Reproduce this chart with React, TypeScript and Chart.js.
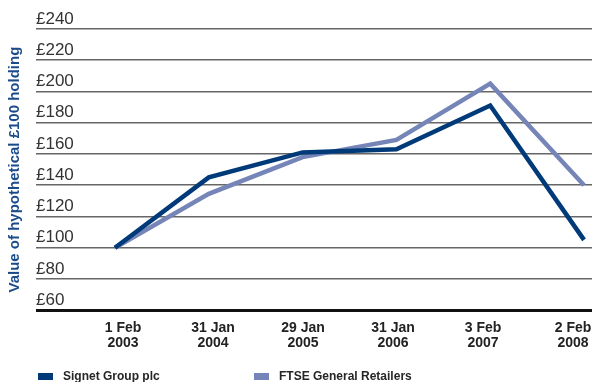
import React, { useEffect, useRef } from "react";
import { Chart, registerables } from "chart.js";

Chart.register(...registerables);

const categories: string[][] = [
  ["1 Feb", "2003"],
  ["31 Jan", "2004"],
  ["29 Jan", "2005"],
  ["31 Jan", "2006"],
  ["3 Feb", "2007"],
  ["2 Feb", "2008"],
];
const signetValues = [100, 145, 161, 163, 191, 105];
const ftseValues = [100, 134.5, 158, 169, 205, 140];
const yTicks = [60, 80, 100, 120, 140, 160, 180, 200, 220, 240];
const seriesNames = ["Signet Group plc", "FTSE General Retailers"];
const seriesColors = ["#003a78", "#7585b8"];
const yTitle = "Value of hypothetical £100 holding";

const legendPlugin = {
  id: "customLegend",
  afterDraw(chart: any) {
    const ctx = chart.ctx;
    const xs = [38, 254];
    const y = 376.5;
    ctx.save();
    chart.data.datasets.forEach((ds: any, i: number) => {
      const x = xs[i];
      ctx.fillStyle = ds.borderColor;
      ctx.fillRect(x, y - 3.5, 15, 7);
      ctx.fillStyle = "#262626";
      ctx.font = "bold 12px 'Liberation Sans', Arial, sans-serif";
      ctx.textBaseline = "middle";
      ctx.textAlign = "left";
      ctx.fillText(ds.label, x + 25, y);
    });
    ctx.restore();
  },
};

export default function App() {
  const ref = useRef<HTMLCanvasElement>(null);
  useEffect(() => {
    if (!ref.current) return;
    const chart = new Chart(ref.current, {
      type: "line",
      data: {
        datasets: [
          {
            label: seriesNames[0],
            data: signetValues.map((v, i) => ({ x: i, y: v })),
            borderColor: seriesColors[0],
            backgroundColor: seriesColors[0],
            borderWidth: 4.5,
            pointRadius: 0,
            tension: 0,
            borderJoinStyle: "miter",
            xAxisID: "x",
          },
          {
            label: seriesNames[1],
            data: ftseValues.map((v, i) => ({ x: i, y: v })),
            borderColor: seriesColors[1],
            backgroundColor: seriesColors[1],
            borderWidth: 4.5,
            pointRadius: 0,
            tension: 0,
            borderJoinStyle: "miter",
            xAxisID: "x",
          },
        ],
      },
      options: {
        responsive: false,
        animation: false,
        devicePixelRatio: 1,
        layout: { autoPadding: false, padding: { top: 29, left: 0, right: 0, bottom: 21 } },
        plugins: {
          legend: { display: false },
          tooltip: { enabled: false },
        },
        scales: {
          x: {
            type: "linear",
            display: false,
            min: -0.842,
            max: 5.085,
          },
          x2: {
            type: "linear",
            position: "bottom",
            min: -0.9667,
            max: 5.211,
            grid: { display: false, drawTicks: false },
            border: { display: false },
            afterBuildTicks: (scale: any) => {
              scale.ticks = categories.map((_, i) => ({ value: i }));
            },
            afterFit: (scale: any) => {
              scale.paddingLeft = 0;
              scale.paddingRight = 0;
            },
            ticks: {
              autoSkip: false,
              maxRotation: 0,
              padding: 10,
              color: "#222",
              font: { family: "'Liberation Sans', Arial, sans-serif", size: 14, weight: "bold", lineHeight: 1.1 },
              callback: (v: any) => categories[Math.round(Number(v))] || "",
            },
          },
          y: {
            type: "linear",
            min: 60,
            max: 240,
            afterBuildTicks: (scale: any) => {
              scale.ticks = yTicks.map((v) => ({ value: v }));
            },
            border: { display: false },
            grid: {
              drawTicks: false,
              color: (c: any) => (c.tick && c.tick.value === 60 ? "#111" : "#666"),
              lineWidth: (c: any) => (c.tick && c.tick.value === 60 ? 3 : 1.5),
            },
            ticks: {
              mirror: true,
              padding: 0,
              labelOffset: -10,
              color: "#333",
              font: { family: "'Liberation Sans', Arial, sans-serif", size: 17 },
              callback: (v: any) => "£" + v,
            },
            title: {
              display: true,
              text: yTitle,
              color: "#1c4b8c",
              font: { family: "'Liberation Sans', Arial, sans-serif", size: 15, weight: "bold", lineHeight: 1.2 },
              padding: { top: 6, bottom: 12 },
            },
          },
        },
      },
      plugins: [legendPlugin],
    } as any);
    return () => chart.destroy();
  }, []);
  return (
    <div style={{ position: "fixed", left: 0, top: 0, width: 592, height: 382, background: "#fff" }}>
      <canvas ref={ref} width={592} height={382} />
    </div>
  );
}
